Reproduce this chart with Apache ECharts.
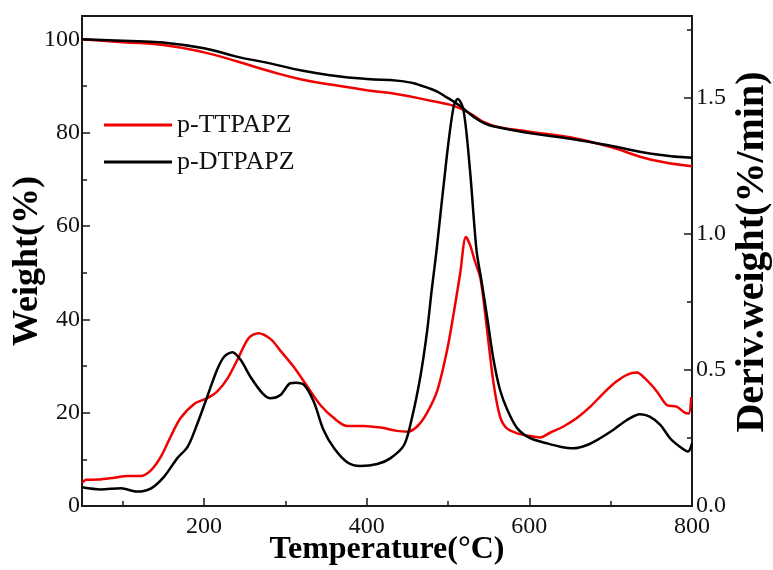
<!DOCTYPE html>
<html lang="en">
<head>
<meta charset="UTF-8">
<title>TGA / DTG curves</title>
<script src="https://cdn.jsdelivr.net/npm/echarts@6/dist/echarts.min.js"></script>
<style>
    body {
        margin: 0;
        background-color: #ffffff;
    }
    #chart {
        width: 773px;
        height: 570px;
    }
</style>
</head>
<body>
<div id="chart"></div>
<script>
    // TG curves (weight %, left axis)
    const tgTemp = [50, 100, 150, 200, 240, 280, 320, 360, 400, 440, 480, 500, 515, 530, 545, 560, 600, 650, 700, 750, 800];
    const tgTT   = [100, 99.4, 98.8, 97.2, 95.3, 93.2, 91.4, 90.2, 89.1, 88.2, 86.8, 86.1, 85.2, 83.8, 82.2, 81.3, 80.2, 79.0, 76.9, 74.2, 72.8];
    const tgDT   = [100, 99.7, 99.3, 98.1, 96.3, 94.9, 93.3, 92.2, 91.5, 91.1, 89.3, 87.4, 85.7, 83.6, 82.0, 81.2, 79.9, 78.7, 77.2, 75.5, 74.6];

    // DTG curves (deriv. weight %/min, right axis)
    const dtgTempTT = [50, 55, 70, 90, 106, 122, 135, 147, 159, 171, 188, 204, 216, 229, 241, 255, 267, 282, 294, 310,
                       327, 343, 360, 376, 396, 417, 437, 450, 462, 474, 487, 499, 507, 515, 522, 527, 533, 540, 548, 556,
                       564, 572, 585, 601, 613, 626, 642, 658, 675, 691, 707, 720, 732, 744, 757, 769, 781, 791, 796, 799];
    const dtgTT     = [0.085, 0.096, 0.097, 0.104, 0.110, 0.110, 0.132, 0.181, 0.255, 0.322, 0.375, 0.396, 0.420, 0.469, 0.537, 0.617, 0.635, 0.613, 0.570, 0.512,
                       0.439, 0.371, 0.322, 0.294, 0.294, 0.288, 0.276, 0.273, 0.292, 0.341, 0.426, 0.574, 0.708, 0.855, 0.988, 0.960, 0.900, 0.835, 0.647, 0.451,
                       0.328, 0.286, 0.267, 0.257, 0.252, 0.270, 0.292, 0.322, 0.365, 0.414, 0.457, 0.482, 0.490, 0.463, 0.420, 0.371, 0.365, 0.343, 0.340, 0.400];

    const dtgTempDT = [50, 73, 98, 118, 135, 151, 167, 180, 192, 204, 216, 225, 235, 245, 257, 272, 282, 294, 306, 313,
                       323, 335, 347, 360, 376, 392, 413, 429, 446, 456, 466, 474, 480, 486, 499, 507, 512, 519, 527, 535,
                       541, 548, 556, 564, 573, 585, 601, 622, 638, 654, 671, 687, 703, 720, 736, 748, 761, 773, 785, 795, 800];
    const dtgDT     = [0.069, 0.061, 0.065, 0.053, 0.065, 0.108, 0.175, 0.218, 0.304, 0.402, 0.500, 0.549, 0.565, 0.537, 0.475, 0.414, 0.396, 0.408, 0.451, 0.453,
                       0.445, 0.383, 0.279, 0.212, 0.161, 0.147, 0.154, 0.175, 0.224, 0.328, 0.475, 0.635, 0.794, 0.941, 1.297, 1.468, 1.495, 1.456, 1.235, 0.941,
                       0.830, 0.696, 0.537, 0.426, 0.353, 0.286, 0.249, 0.230, 0.218, 0.212, 0.224, 0.249, 0.279, 0.316, 0.337, 0.328, 0.298, 0.249, 0.218, 0.200, 0.230];

    // ticks
    const xMajor = [200, 400, 600, 800];
    const xMinor = [100, 300, 500, 700];
    const yLeftMajor = [0, 20, 40, 60, 80, 100];
    const yLeftMinor = [10, 30, 50, 70, 90];
    const yRightMajor = [0, 0.5, 1.0, 1.5];
    const yRightMinor = [0.25, 0.75, 1.25, 1.75];

    const RED = '#f00000';
    const BLACK = '#000000';
    const FONT = 'Liberation Serif, Times New Roman, serif';
    const AXIS_COLOR = '#1a1a1a';

    function pairs(xs, ys) {
        return xs.map((x, i) => [x, ys[i]]);
    }

    const chart = echarts.init(document.getElementById('chart'));

    const xBase = { type: 'value', min: 50, max: 800, gridIndex: 0 };
    const hidden = { axisLine: { show: false }, axisLabel: { show: false }, splitLine: { show: false } };

    chart.setOption({
        animation: false,
        backgroundColor: '#ffffff',
        grid: {
            left: 82, right: 81, top: 16, bottom: 64,
            outerBoundsMode: 'none',
            containLabel: false,
            show: true, borderColor: AXIS_COLOR, borderWidth: 2
        },
        legend: {
            orient: 'vertical',
            left: 99,
            top: 107,
            icon: 'rect',
            itemWidth: 68,
            itemHeight: 3,
            itemGap: 11,
            data: ['p-TTPAPZ', 'p-DTPAPZ'],
            textStyle: { fontFamily: FONT, fontSize: 26, color: '#111' }
        },
        xAxis: [
            Object.assign({}, xBase, {
                position: 'bottom',
                name: 'Temperature(°C)',
                nameLocation: 'middle',
                nameMoveOverlap: false,
                nameGap: 28,
                nameTextStyle: { fontFamily: FONT, fontSize: 32, fontWeight: 'bold', color: '#000' },
                axisLine: { lineStyle: { color: AXIS_COLOR, width: 2 } },
                axisTick: { inside: true, length: 8, customValues: xMajor, lineStyle: { color: AXIS_COLOR, width: 1.5 } },
                axisLabel: { customValues: xMajor, margin: 9, fontFamily: FONT, fontSize: 24, color: '#111' },
                splitLine: { show: false }
            }),
            Object.assign({}, xBase, hidden, {
                position: 'bottom',
                axisTick: { inside: true, length: 5, customValues: xMinor, lineStyle: { color: AXIS_COLOR, width: 1.5 } }
            })
        ],
        yAxis: [
            {
                type: 'value', position: 'left', min: 0, max: 105,
                name: 'Weight(%)',
                nameLocation: 'middle',
                nameRotate: 90,
                nameMoveOverlap: false,
                nameGap: 36,
                nameTextStyle: { fontFamily: FONT, fontSize: 36, fontWeight: 'bold', color: '#000' },
                axisLine: { lineStyle: { color: AXIS_COLOR, width: 2 } },
                axisTick: { inside: true, length: 8, customValues: yLeftMajor, lineStyle: { color: AXIS_COLOR, width: 1.5 } },
                axisLabel: { customValues: yLeftMajor, margin: 2, fontFamily: FONT, fontSize: 24, color: '#111' },
                splitLine: { show: false }
            },
            {
                type: 'value', position: 'right', min: 0, max: 1.8,
                name: 'Deriv.weight(%/min)',
                nameLocation: 'middle',
                nameRotate: 90,
                nameMoveOverlap: false,
                nameGap: 41,
                nameTextStyle: {
                    fontFamily: FONT, fontSize: 40, fontWeight: 'bold', color: '#000',
                    padding: [0, 0, 0, 18]
                },
                axisLine: { lineStyle: { color: AXIS_COLOR, width: 2 } },
                axisTick: { inside: true, length: 8, customValues: yRightMajor, lineStyle: { color: AXIS_COLOR, width: 1.5 } },
                axisLabel: {
                    customValues: yRightMajor, margin: 4, fontFamily: FONT, fontSize: 24, color: '#111',
                    formatter: v => v.toFixed(1)
                },
                splitLine: { show: false }
            },
            Object.assign({ type: 'value', position: 'left', min: 0, max: 105 }, hidden, {
                axisTick: { inside: true, length: 5, customValues: yLeftMinor, lineStyle: { color: AXIS_COLOR, width: 1.5 } }
            }),
            Object.assign({ type: 'value', position: 'right', min: 0, max: 1.8 }, hidden, {
                axisTick: { inside: true, length: 5, customValues: yRightMinor, lineStyle: { color: AXIS_COLOR, width: 1.5 } }
            })
        ],
        series: [
            {
                name: 'p-TTPAPZ', type: 'line', xAxisIndex: 0, yAxisIndex: 0,
                data: pairs(tgTemp, tgTT), smooth: true, symbol: 'none',
                lineStyle: { color: RED, width: 2.5 }, itemStyle: { color: RED }
            },
            {
                name: 'p-DTPAPZ', type: 'line', xAxisIndex: 0, yAxisIndex: 0,
                data: pairs(tgTemp, tgDT), smooth: true, symbol: 'none',
                lineStyle: { color: BLACK, width: 2.5 }, itemStyle: { color: BLACK }
            },
            {
                name: 'p-TTPAPZ', type: 'line', xAxisIndex: 0, yAxisIndex: 1,
                data: pairs(dtgTempTT, dtgTT), smooth: 0.3, symbol: 'none',
                lineStyle: { color: RED, width: 2.5 }, itemStyle: { color: RED }
            },
            {
                name: 'p-DTPAPZ', type: 'line', xAxisIndex: 0, yAxisIndex: 1,
                data: pairs(dtgTempDT, dtgDT), smooth: 0.3, symbol: 'none',
                lineStyle: { color: BLACK, width: 2.5 }, itemStyle: { color: BLACK }
            }
        ]
    });
</script>
</body>
</html>
